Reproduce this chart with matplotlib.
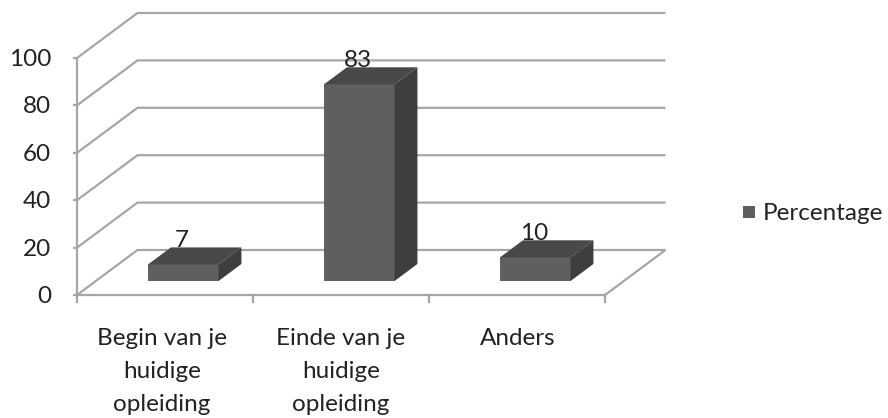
import numpy as np
import matplotlib
matplotlib.use('Agg')
import matplotlib.pyplot as plt
from matplotlib.patches import Polygon, Rectangle

categories = ['Begin van je\nhuidige\nopleiding', 'Einde van je\nhuidige\nopleiding', 'Anders']
percentage = [7, 83, 10]
y_ticks = [0, 20, 40, 60, 80, 100]
series_name = 'Percentage'

plt.rcParams['font.family'] = 'Lato'

W, H = 888, 418
fig = plt.figure(figsize=(W / 100, H / 100), dpi=100)

# Axes is the front plane of the fake 3D box
left, right, bottom, top = 77, 605, 295, 58
ax = fig.add_axes([left / W, 1 - bottom / H, (right - left) / W, (bottom - top) / H])
ax.set_xlim(0, 3)
ax.set_ylim(0, 100)
ax.axis('off')

# Depth of the box in data units
dx = 60.5 / (right - left) * 3
dy = 45 / (bottom - top) * 100
grey = '#a6a6a6'
lw = 1.6
fs = 17.5
text_col = '#222222'
px = 3 / (right - left)  # one pixel in x data units
py = 100 / (bottom - top)  # one pixel in y data units


def line(xs, ys, **kw):
    ax.plot(xs, ys, color=grey, lw=lw, clip_on=False, solid_capstyle='butt', **kw)


# Gridlines on back wall and side wall
for t in y_ticks:
    line([0, dx, 3 + dx], [t, t + dy, t + dy])

# Floor and y axis
line([0, 3], [0, 0])
line([3, 3 + dx], [0, dy])
line([0, 0], [0, 100])

# Tick marks
for t in y_ticks:
    line([-0.023, 0], [t, t])
    ax.text(-26 * px, t - 1.5 * py, str(t), ha='right', va='center', fontsize=fs, color=text_col)
for i in range(4):
    ax.plot([i, i], [0, -2.8], color=grey, lw=lw, clip_on=False)

# Bars, sitting part way into the floor depth
d0 = 14 / 45
d1 = 31 / 45
bar_w = 70.5 * px
for i, v in enumerate(percentage):
    cx = i + 0.5 + d0 * dx - 0.5 * px
    x0, x1 = cx - bar_w / 2, cx + bar_w / 2
    y0 = d0 * dy
    y1 = y0 + v
    ox, oy = (d1 - d0) * dx, (d1 - d0) * dy
    ax.add_patch(Polygon([(x0, y0), (x1, y0), (x1, y1), (x0, y1)], fc='#5f5f5f', ec='none', zorder=3, clip_on=False))
    ax.add_patch(Polygon([(x0, y1), (x1, y1), (x1 + ox, y1 + oy), (x0 + ox, y1 + oy)], fc='#484848', ec='none', zorder=3, clip_on=False))
    ax.add_patch(Polygon([(x1, y0), (x1 + ox, y0 + oy), (x1 + ox, y1 + oy), (x1, y1)], fc='#3e3e3e', ec='none', zorder=3, clip_on=False))
    ax.text(cx + ox / 2 - 13 * px, y1 + oy - 1.5, str(v), ha='center', va='bottom',
            fontsize=fs, color=text_col, zorder=2)

# Category labels
label_shift = [-3, 0, 1]
for i, c in enumerate(categories):
    ax.text(i + 0.5 + label_shift[i] * px, -14, c, ha='center', va='top', fontsize=fs, color=text_col, linespacing=1.7)

# Legend
fig.add_artist(Rectangle((743 / W, 1 - 218 / H), 12 / W, 12 / H, transform=fig.transFigure, fc='#5f5f5f', ec='none'))
fig.text(763 / W, 1 - 213.5 / H, series_name, ha='left', va='center', fontsize=fs, color=text_col)

fig.savefig('out.png', dpi=100)
